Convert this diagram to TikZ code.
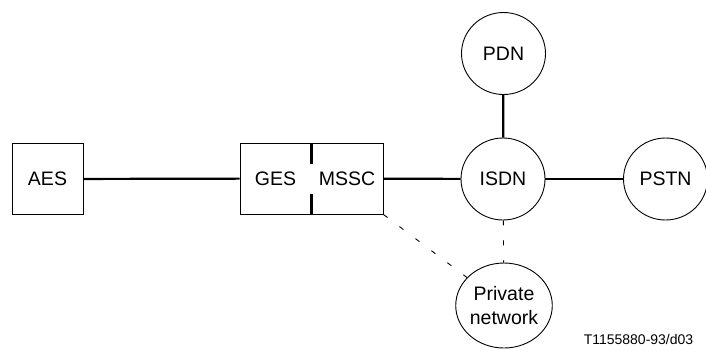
\documentclass[tikz,border=0pt]{standalone}
\usepackage{fontspec}
\setmainfont{Liberation Sans}
\usetikzlibrary{shapes.geometric}
\begin{document}
\begin{tikzpicture}[x=1pt, y=-1pt, font=\fontsize{19.5}{23.5}\selectfont,
  box/.style={draw, line width=1pt, minimum width=71pt, minimum height=71pt, inner sep=0pt},
  net/.style={draw, ellipse, line width=0.9pt, minimum width=84pt, minimum height=82pt, inner sep=0pt, align=center},
  link/.style={line width=2.2pt},
  dashlink/.style={line width=0.9pt, dash pattern=on 5pt off 15pt}]
% 枠(座標で固定)
\useasboundingbox (0,0) rectangle (706,354);
% ノード(座標で配置)
\node[box]                    (aes)  at (47.5,179)  {AES};
\node[box, minimum width=143pt] (gw) at (311.5,178.5) {};
\node                         (ges)  at (275.5,179) {GES};
\node                         (mssc) at (347,179)   {MSSC};
\node[net]                    (pdn)  at (503.5,53.5) {PDN};
\node[net]                    (isdn) at (503,179)   {ISDN};
\node[net]                    (pstn) at (665.5,179) {PSTN};
\node[net, minimum height=85pt] (priv) at (504,305.5) {Private\\network};

% 仕切り
\draw[link] (gw.north) -- ++(0,21);
\draw[link] (gw.south) -- ++(0,-21);

% 接続線
\draw[link] (aes) -- (gw);
\draw[link] (gw) -- (isdn);
\draw[link] (isdn) -- (pstn);
\draw[link] (pdn) -- (isdn);
\draw[dashlink] (isdn) -- (priv);
\draw[dashlink] (gw.south east) -- (priv);

% 注記
\node[font=\fontsize{14}{16}\selectfont] (ref) at (638.5,339) {T1155880-93/d03};
\end{tikzpicture}
\end{document}
